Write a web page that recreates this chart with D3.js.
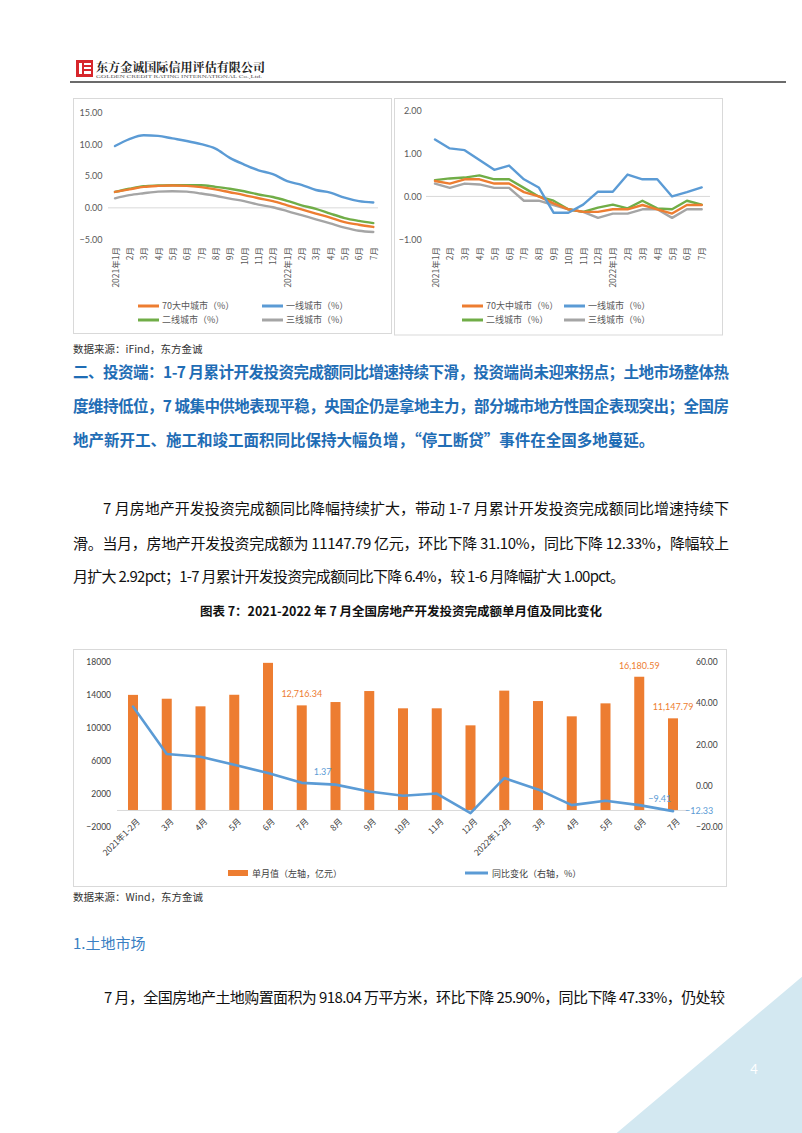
<!DOCTYPE html>
<html>
<head>
<meta charset="utf-8" />
<title>房地产开发投资</title>
<script src="https://cdn.jsdelivr.net/npm/d3@7"></script>
<style>
    body { margin: 0; background: #fff; }
    svg { display: block; }
</style>
</head>
<body>
<svg id='page'></svg>
<script>

// ---- data: 70城房价同比/环比 ----
var months = ['2021年1月', '2月', '3月', '4月', '5月', '6月', '7月', '8月', '9月', '10月', '11月', '12月',
    '2022年1月', '2月 ', '3月 ', '4月 ', '5月 ', '6月 ', '7月 ']
var monthLabels = ['2021年1月', '2月', '3月', '4月', '5月', '6月', '7月', '8月', '9月', '10月', '11月', '12月',
    '2022年1月', '2月', '3月', '4月', '5月', '6月', '7月']

// 同比 (left)
var yoy70 = [2.5, 2.9, 3.3, 3.45, 3.5, 3.45, 3.25, 2.9, 2.45, 2.0, 1.5, 1.05, 0.4, -0.25, -0.9, -1.55, -2.25, -2.65, -3.0]
var yoy1 = [9.7, 10.8, 11.4, 11.3, 10.9, 10.5, 10.0, 9.3, 7.85, 6.8, 5.9, 5.3, 4.2, 3.6, 2.8, 2.4, 1.6, 1.05, 0.85]
var yoy2 = [2.5, 3.0, 3.4, 3.5, 3.55, 3.55, 3.55, 3.3, 3.0, 2.6, 2.1, 1.7, 1.1, 0.4, -0.15, -0.9, -1.6, -2.05, -2.4]
var yoy3 = [1.5, 2.0, 2.3, 2.55, 2.6, 2.55, 2.25, 1.9, 1.45, 1.05, 0.5, 0.1, -0.5, -1.15, -1.8, -2.45, -3.1, -3.6, -3.8]
var yoyTicks = [15, 10, 5, 0, -5]

// 环比 (right)
var mom70 = [0.36, 0.3, 0.4, 0.4, 0.3, 0.3, 0.1, 0.0, -0.16, -0.3, -0.36, -0.36, -0.3, -0.3, -0.2, -0.3, -0.4, -0.2, -0.2]
var mom1 = [1.33, 1.12, 1.08, 0.85, 0.62, 0.72, 0.4, 0.21, -0.38, -0.38, -0.19, 0.11, 0.11, 0.51, 0.4, 0.4, 0.0, 0.1, 0.21]
var mom2 = [0.38, 0.42, 0.44, 0.49, 0.4, 0.4, 0.2, 0.0, -0.1, -0.3, -0.36, -0.26, -0.19, -0.28, -0.1, -0.28, -0.3, -0.1, -0.19]
var mom3 = [0.3, 0.2, 0.3, 0.28, 0.2, 0.2, -0.1, -0.1, -0.2, -0.3, -0.36, -0.5, -0.4, -0.4, -0.3, -0.3, -0.5, -0.3, -0.3]
var momTicks = [2, 1, 0, -1]

var cityNames = ['70大中城市（%）', '一线城市（%）', '二线城市（%）', '三线城市（%）']

// ---- data: 开发投资完成额单月值及同比 ----
var invCats = ['2021年1-2月', '3月', '4月', '5月', '6月', '7月', '8月', '9月', '10月', '11月', '12月',
    '2022年1-2月', '3月 ', '4月 ', '5月 ', '6月 ', '7月 ']
var invLabels = ['2021年1-2月', '3月', '4月', '5月', '6月', '7月', '8月', '9月', '10月', '11月', '12月',
    '2022年1-2月', '3月', '4月', '5月', '6月', '7月']
var invValue = [13986, 13520, 12600, 14000, 17861, 12716.34, 13120, 14450, 12360, 12360, 10300,
    14499, 13240, 11390, 12960, 16180.59, 11147.79]
var invYoy = [38.3, 15.3, 14.0, 10.1, 6.1, 1.37, 0.5, -2.8, -4.9, -3.8, -13.3,
    3.7, -1.8, -9.4, -7.3, -9.41, -12.33]
var invLeftTicks = [18000, 14000, 10000, 6000, 2000, -2000]
var invRightTicks = [60, 40, 20, 0, -20]
var invSeries = ['单月值（左轴，亿元）', '同比变化（右轴，%）']

var W = 802, H = 1133
var cjk = "'Noto Sans CJK SC', sans-serif"
var num = "Lato, 'Noto Sans CJK SC', sans-serif"
var orange = '#ED7D31', blue = '#5B9BD5', green = '#70AD47', grey = '#A5A5A5'
var axisGrey = '#595959'

var svg = d3.select('#page').attr('width', W).attr('height', H)
svg.append('rect').attr('width', W).attr('height', H).attr('fill', '#fff')

// ---- header ----
var logo = svg.append('g')
logo.append('rect').attr('x', 76).attr('y', 60).attr('width', 17).attr('height', 17).attr('fill', '#d7262b')
logo.append('rect').attr('x', 79).attr('y', 63).attr('width', 3).attr('height', 11).attr('fill', '#fff')
logo.append('rect').attr('x', 84).attr('y', 63).attr('width', 7).attr('height', 2).attr('fill', '#fff')
logo.append('rect').attr('x', 84).attr('y', 67).attr('width', 7).attr('height', 2).attr('fill', '#fff')
logo.append('rect').attr('x', 84).attr('y', 71).attr('width', 7).attr('height', 3).attr('fill', '#fff')
svg.append('text').attr('x', 96).attr('y', 72)
    .attr('textLength', 169).attr('lengthAdjust', 'spacingAndGlyphs')
    .style('font', `bold 12.5px 'Noto Serif CJK SC', 'Noto Sans CJK SC', serif`)
    .attr('fill', '#222').text('东方金诚国际信用评估有限公司')
svg.append('text').attr('x', 96).attr('y', 78)
    .attr('textLength', 166).attr('lengthAdjust', 'spacingAndGlyphs')
    .style('font', `5px 'Liberation Serif', serif`)
    .attr('fill', '#555').text('GOLDEN CREDIT RATING INTERNATIONAL Co.,Ltd.')
svg.append('line').attr('x1', 70).attr('x2', 786).attr('y1', 82).attr('y2', 82)
    .attr('stroke', '#3a3a3a').attr('stroke-width', 1.5)

// ---- small line charts ----
function drawSmall(opt) {
    var g = svg.append('g')
    g.append('rect').attr('x', opt.frame[0]).attr('y', opt.frame[1])
        .attr('width', opt.frame[2] - opt.frame[0]).attr('height', opt.frame[3] - opt.frame[1])
        .attr('fill', 'none').attr('stroke', '#d9d9d9')

    var x = d3.scalePoint().domain(months).range(opt.xr)
    var y = d3.scaleLinear().domain(opt.yd).range(opt.yr)

    g.append('line').attr('x1', opt.zero[0]).attr('x2', opt.zero[1])
        .attr('y1', y(0)).attr('y2', y(0)).attr('stroke', '#d9d9d9')

    var ya = g.append('g').attr('transform', `translate(${opt.labelX},0)`)
        .call(d3.axisLeft(y).tickValues(opt.ticks).tickFormat(d3.format('.2f')).tickSize(0).tickPadding(0))
    ya.select('.domain').remove()
    ya.selectAll('text').style('font', `9px ${num}`).attr('fill', axisGrey)

    var xa = g.append('g').attr('transform', `translate(0,${opt.xLabelY})`)
        .call(d3.axisBottom(x).tickSize(0).tickPadding(0).tickFormat((d, i) => monthLabels[i]))
    xa.select('.domain').remove()
    xa.selectAll('text')
        .style('font', `8.5px ${cjk}`).attr('fill', axisGrey)
        .attr('text-anchor', 'end').attr('dy', null).attr('y', 0)
        .attr('transform', 'rotate(-90) translate(0,3)')

    var line = d3.line().x((d, i) => x(months[i])).y(d => y(d)).curve(opt.curve)
    var order = [[opt.s[3], grey], [opt.s[2], green], [opt.s[0], orange], [opt.s[1], blue]]
    order.forEach(function (o) {
        g.append('path').datum(o[0]).attr('d', line)
            .attr('fill', 'none').attr('stroke', o[1]).attr('stroke-width', 2.4)
            .attr('stroke-linejoin', 'round').attr('stroke-linecap', 'round')
    })

    var cols = [orange, blue, green, grey]
    cols.forEach(function (c, i) {
        var lx = i % 2 == 0 ? opt.leg[0] : opt.leg[1]
        var ly = i < 2 ? opt.legY[0] : opt.legY[1]
        g.append('line').attr('x1', lx).attr('x2', lx + 21).attr('y1', ly).attr('y2', ly)
            .attr('stroke', c).attr('stroke-width', 3)
        g.append('text').attr('x', lx + 24).attr('y', ly + 3.3)
            .style('font', `9px ${cjk}`).attr('fill', axisGrey).text(cityNames[i])
    })
}

drawSmall({
    frame: [73.5, 98.5, 391.5, 333.5], xr: [115, 373.3], yd: [-5, 15], yr: [239.7, 112.3],
    zero: [108, 378], labelX: 102.5, ticks: yoyTicks, xLabelY: 247, s: [yoy70, yoy1, yoy2, yoy3],
    curve: d3.curveMonotoneX, leg: [138, 262], legY: [306, 320]
})
drawSmall({
    frame: [394.5, 98.5, 722.5, 335], xr: [435, 701.7], yd: [-1, 2], yr: [239.3, 110.7],
    zero: [426, 710], labelX: 421.7, ticks: momTicks, xLabelY: 247, s: [mom70, mom1, mom2, mom3],
    curve: d3.curveLinear, leg: [462, 564], legY: [306, 320]
})

// ---- text blocks ----
function txt(x, y, s, font, fill, len) {
    var t = svg.append('text').attr('x', x).attr('y', y).style('font', font).attr('fill', fill).text(s)
    if (len) t.attr('textLength', len).attr('lengthAdjust', 'spacing')
    return t
}
txt(73, 353, '数据来源：iFind，东方金诚', `10.5px ${cjk}`, '#333')

var headBlue = '#1f6db5'
var headFont = `bold 15.5px ${cjk}`
txt(73, 378, '二、投资端：1-7 月累计开发投资完成额同比增速持续下滑，投资端尚未迎来拐点；土地市场整体热', headFont, headBlue, 656)
txt(73, 412, '度维持低位，7 城集中供地表现平稳，央国企仍是拿地主力，部分城市地方性国企表现突出；全国房', headFont, headBlue, 656)
txt(73, 446, '地产新开工、施工和竣工面积同比保持大幅负增，“停工断贷”事件在全国多地蔓延。', headFont, headBlue)

var bodyFont = `15px ${cjk}`
txt(103, 514, '7 月房地产开发投资完成额同比降幅持续扩大，带动 1-7 月累计开发投资完成额同比增速持续下', bodyFont, '#111', 626)
txt(73, 549, '滑。当月，房地产开发投资完成额为 11147.79 亿元，环比下降 31.10%，同比下降 12.33%，降幅较上', bodyFont, '#111', 656)
txt(73, 582, '月扩大 2.92pct；1-7 月累计开发投资完成额同比下降 6.4%，较 1-6 月降幅扩大 1.00pct。', bodyFont, '#111', 552)

txt(401, 616, '图表 7：2021-2022 年 7 月全国房地产开发投资完成额单月值及同比变化', `bold 12.5px ${cjk}`, '#111')
    .attr('text-anchor', 'middle')

// ---- bar + line chart ----
var bc = svg.append('g')
bc.append('rect').attr('x', 73.5).attr('y', 649.5).attr('width', 653).attr('height', 237)
    .attr('fill', 'none').attr('stroke', '#d9d9d9')

var bx = d3.scalePoint().domain(invCats).range([133, 673])
var yl = d3.scaleLinear().domain([-2000, 18000]).range([827, 661.7])
var yr = d3.scaleLinear().domain([-20, 60]).range([827, 661.7])

var la = bc.append('g').attr('transform', 'translate(111,0)')
    .call(d3.axisLeft(yl).tickValues(invLeftTicks).tickFormat(d3.format('d')).tickSize(0).tickPadding(0))
la.select('.domain').remove()
la.selectAll('text').style('font', `8.5px ${num}`).attr('fill', '#404040')

var ra = bc.append('g').attr('transform', 'translate(696,0)')
    .call(d3.axisRight(yr).tickValues(invRightTicks).tickFormat(d3.format('.2f')).tickSize(0).tickPadding(0))
ra.select('.domain').remove()
ra.selectAll('text').style('font', `8.5px ${num}`).attr('fill', '#404040')

bc.selectAll('rect.bar').data(invValue).enter().append('rect').attr('class', 'bar')
    .attr('x', (d, i) => bx(invCats[i]) - 5).attr('width', 10)
    .attr('y', d => yl(d)).attr('height', d => yl(0) - yl(d))
    .attr('fill', orange)

bc.append('line').attr('x1', 117).attr('x2', 688).attr('y1', yl(0)).attr('y2', yl(0))
    .attr('stroke', '#d9d9d9')

var xa2 = bc.append('g').attr('transform', 'translate(0,818)')
    .call(d3.axisBottom(bx).tickSize(0).tickPadding(0).tickFormat((d, i) => invLabels[i]))
xa2.select('.domain').remove()
xa2.selectAll('text').style('font', `8.5px ${cjk}`).attr('fill', '#404040')
    .attr('text-anchor', 'end').attr('y', 0).attr('dy', '0.35em')
    .attr('transform', 'translate(5,2) rotate(-45)')

var yoyLine = d3.line().x((d, i) => bx(invCats[i])).y(d => yr(d))
bc.append('path').datum(invYoy).attr('d', yoyLine)
    .attr('fill', 'none').attr('stroke', blue).attr('stroke-width', 2.6)
    .attr('stroke-linejoin', 'round').attr('stroke-linecap', 'round')

// bar value labels: 2021年7月, 2022年6月, 2022年7月
;[5, 15, 16].forEach(function (i) {
    bc.append('text').attr('x', bx(invCats[i])).attr('y', yl(invValue[i]) - 8)
        .attr('text-anchor', 'middle').style('font', `9px ${num}`).attr('fill', orange)
        .text(d3.format(',.2f')(invValue[i]))
})
// line value labels
;[[5, 12, -8], [15, 9, -3], [16, 12, 3]].forEach(function (o) {
    var i = o[0]
    bc.append('text').attr('x', bx(invCats[i]) + o[1]).attr('y', yr(invYoy[i]) + o[2])
        .style('font', `9px ${num}`).attr('fill', blue)
        .text(d3.format('.2f')(invYoy[i]))
})

// legend
bc.append('rect').attr('x', 228).attr('y', 870).attr('width', 20).attr('height', 6).attr('fill', orange)
bc.append('text').attr('x', 252).attr('y', 876.5).style('font', `9px ${cjk}`).attr('fill', '#404040').text(invSeries[0])
bc.append('line').attr('x1', 465).attr('x2', 488).attr('y1', 873).attr('y2', 873)
    .attr('stroke', blue).attr('stroke-width', 3)
bc.append('text').attr('x', 492).attr('y', 876.5).style('font', `9px ${cjk}`).attr('fill', '#404040').text(invSeries[1])

txt(73, 901, '数据来源：Wind，东方金诚', `10.5px ${cjk}`, '#333')

txt(73, 949, '1.土地市场', `15px ${cjk}`, '#3a80c3')
txt(104, 1003, '7 月，全国房地产土地购置面积为 918.04 万平方米，环比下降 25.90%，同比下降 47.33%，仍处较', bodyFont, '#111', 621)

// ---- corner decoration ----
svg.append('path').attr('d', `M802,976.7 L802,1133 L616.7,1133 Z`).attr('fill', '#d3e8f1')
txt(754, 1074, '4', `13px ${num}`, '#fff').attr('text-anchor', 'middle')

</script>
</body>
</html>
